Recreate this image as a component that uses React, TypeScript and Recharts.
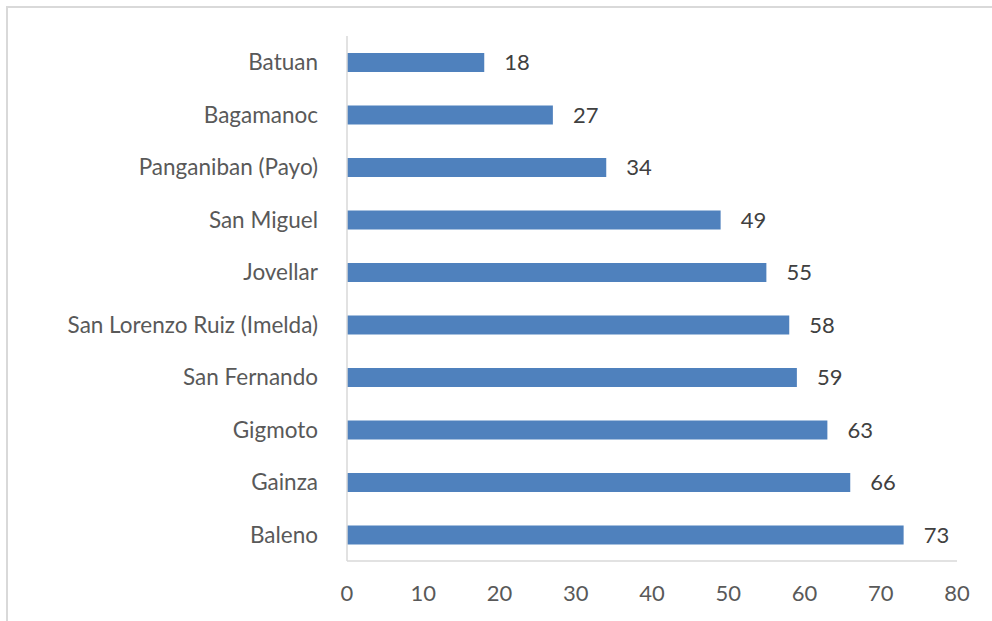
import React from "react";
import { BarChart, Bar, XAxis, YAxis, LabelList } from "recharts";

const municipalities = [
  "Batuan",
  "Bagamanoc",
  "Panganiban (Payo)",
  "San Miguel",
  "Jovellar",
  "San Lorenzo Ruiz (Imelda)",
  "San Fernando",
  "Gigmoto",
  "Gainza",
  "Baleno",
];
const counts = [18, 27, 34, 49, 55, 58, 59, 63, 66, 73];
const xTicks = [0, 10, 20, 30, 40, 50, 60, 70, 80];

const data = municipalities.map((name, i) => ({ name, value: counts[i] }));

const FONT = "Lato, 'Noto Sans', sans-serif";

export default function App() {
  return (
    <div
      style={{
        position: "absolute",
        left: 0,
        top: 0,
        width: 992,
        height: 621,
        overflow: "hidden",
        background: "#ffffff",
      }}
    >
      <div
        style={{
          position: "absolute",
          left: 6,
          top: 6,
          right: -10,
          bottom: -10,
          borderLeft: "2px solid #d9d9d9",
          borderTop: "2px solid #d9d9d9",
        }}
      />
      <div style={{ position: "absolute", left: 0, top: 0 }}>
        <BarChart
          width={992}
          height={621}
          data={data}
          layout="vertical"
          margin={{ top: 36, right: 35, bottom: 20, left: 0 }}
        >
          <XAxis
            type="number"
            domain={[0, 80]}
            ticks={xTicks}
            interval={0}
            axisLine={{ stroke: "#d9d9d9", strokeWidth: 1.5 }}
            tickLine={false}
            tickSize={0}
            tickMargin={24}
            height={40}
            tick={{ fill: "#595959", fontSize: 22, fontFamily: FONT }}
          />
          <YAxis
            type="category"
            dataKey="name"
            width={347}
            interval={0}
            axisLine={{ stroke: "#d9d9d9", strokeWidth: 1.5 }}
            tickLine={false}
            tickSize={0}
            tickMargin={29}
            tick={{ fill: "#595959", fontSize: 22.5, fontFamily: FONT }}
          />
          <Bar dataKey="value" fill="#4f81bd" barSize={19} isAnimationActive={false}>
            <LabelList
              dataKey="value"
              position="right"
              offset={20}
              fill="#404040"
              fontSize={22}
              fontFamily={FONT}
            />
          </Bar>
        </BarChart>
      </div>
    </div>
  );
}
